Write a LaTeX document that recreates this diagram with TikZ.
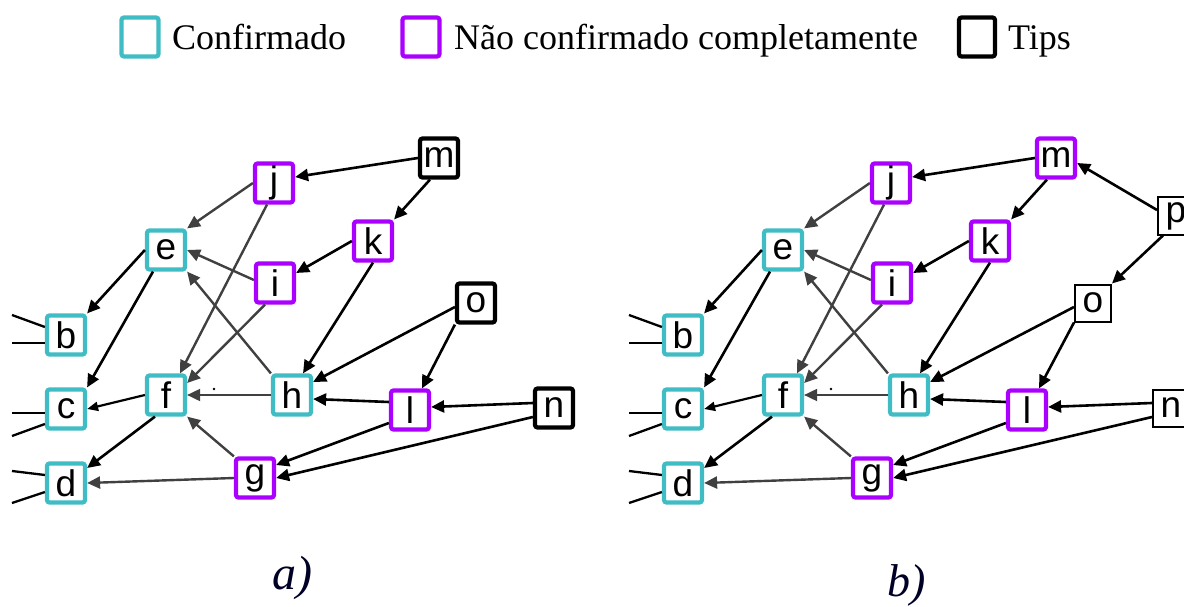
\documentclass[tikz,border=0pt]{standalone}
\usepackage{fontspec}
\setmainfont{Liberation Serif}
\newfontfamily\arialf{Liberation Sans}
\usetikzlibrary{arrows.meta}
\definecolor{conf}{RGB}{64,188,196}
\definecolor{nconf}{RGB}{170,0,255}
\definecolor{edgegray}{RGB}{64,64,64}
\tikzset{
 vbox/.style={draw, line width=4.2pt, rounded corners=2.5pt, minimum width=38pt, minimum height=39pt, inner sep=0pt, font=\arialf\fontsize{37}{37}\selectfont, fill=white},
 confbox/.style={vbox, draw=conf},
 ncbox/.style={vbox, draw=nconf},
 tipbox/.style={vbox, draw=black},
 thintip/.style={vbox, draw=black, line width=2pt, rounded corners=0pt, minimum width=36pt, minimum height=37pt},
 blk/.style={draw=black, line width=2.6pt, -{Triangle[length=13pt,width=12pt]}},
 gry/.style={draw=edgegray, line width=2.4pt, -{Triangle[length=13pt,width=12pt]}},
 stub/.style={draw=black, line width=2.3pt},
 legtext/.style={font=\fontsize{36}{36}\selectfont, anchor=base west, inner sep=0pt},
}
\newcommand\graphbody{%
 \node[ncbox] (j) at (274,183) {j};
 \node[confbox] (e) at (166,250) {e};
 \node[ncbox] (i) at (275,283) {i};
 \node[mstyle] (m) at (439,158) {m};
 \node[ncbox] (k) at (373,241) {k};
 \node[tipstyle] (o) at (476,303) {o};
 \node[confbox] (b) at (66,335) {b};
 \node[confbox] (c) at (66,409) {c};
 \node[confbox] (d) at (66,483) {d};
 \node[confbox] (f) at (166,395) {f};
 \node[confbox] (h) at (292,395) {h};
 \node[ncbox] (g) at (255,478) {g};
 \node[ncbox] (l) at (410,410) {l};
 \node[tipstyle] (n) at (554,408) {n};
 % stubs
 \coordinate (sb1) at (12,315); \coordinate (sb2) at (12,343);
 \coordinate (sc1) at (12,413); \coordinate (sc2) at (12,436);
 \coordinate (sd1) at (12,471); \coordinate (sd2) at (12,503);
 \draw[stub] (sb1) -- ([yshift=8]b.west);
 \draw[stub] (sb2) -- ([yshift=-8]b.west);
 \draw[stub] (sc1) -- ([yshift=-4]c.west);
 \draw[stub] (sc2) -- ([yshift=-15]c.west);
 \draw[stub] (sd1) -- ([yshift=8]d.west);
 \draw[stub] (sd2) -- ([yshift=-9]d.west);
 % edges
 \draw[blk] (m.west) -- ([yshift=6]j.east);
 \draw[blk] ([xshift=-9]m.south) -- (k.north east);
 \draw[blk] (k.west) -- ([yshift=10]i.east);
 \draw[blk] (k.south) -- ([xshift=11]h.north);
 \draw[gry] (j.west) -- (e.north east);
 \draw[gry] ([xshift=-7]j.south) -- ([xshift=14]f.north);
 \draw[gry] ([yshift=3]i.west) -- (e.east);
 \draw[gry] ([xshift=-10]i.south) -- ([yshift=12]f.east);
 \draw[gry] (h.north west) -- (e.south east);
 \draw[blk] (e.west) -- (b.north east);
 \draw[blk] ([xshift=-13]e.south) -- (c.north east);
 \draw[blk, line width=2.2pt, -{Triangle[length=11pt,width=9pt]}] (f.west) -- (c.east);
 \draw[blk] ([xshift=-11]f.south) -- ([yshift=15]d.east);
 \draw[gry, line width=1.8pt] (h.west) -- (f.east);
 \draw[gry] (g.north west) -- (f.south east);
 \draw[gry] (g.west) -- (d.east);
 \draw[blk] ([yshift=-4]o.west) -- ([yshift=13]h.east);
 \draw[blk] (o.south west) -- ([xshift=12]l.north);
 \draw[blk] ([yshift=8]l.west) -- ([yshift=-4]h.east);
 \draw[blk] ([yshift=-13]l.west) -- ([yshift=13]g.east);
 \draw[blk] ([yshift=5]n.west) -- ([yshift=3]l.east);
 \draw[blk] ([yshift=-9]n.west) -- (g.east);
 \fill (214,389) circle[radius=1.3pt];
}
\begin{document}
\begin{tikzpicture}[x=1pt, y=-1pt]
\useasboundingbox (0,0) rectangle (1184,607);
\clip (0,0) rectangle (1184,607);
% legend
\node[confbox, minimum width=37pt, minimum height=39pt] (lc) at (140,37) {};
\node[legtext] (lct) at (172,50) {Confirmado};
\node[ncbox, minimum width=37pt, minimum height=39pt] (ln) at (421,37) {};
\node[legtext] (lnt) at (454,50) {Não confirmado completamente};
\node[tipbox, minimum width=36pt, minimum height=39pt] (lt) at (977,37) {};
\node[legtext] (ltt) at (1008,50) {Tips};
% panel a
\begin{scope}[name prefix=A-, mstyle/.style={tipbox}, tipstyle/.style={tipbox}]
 \graphbody
\end{scope}
% panel b
\begin{scope}[xshift=617pt, name prefix=B-, mstyle/.style={ncbox}, tipstyle/.style={thintip}]
 \graphbody
 \node[thintip] (p) at (559,216) {p};
 \draw[blk] ([yshift=6]p.west) -- ([yshift=-5]m.east);
 \draw[blk] ([xshift=-13]p.south) -- (o.north east);
\end{scope}
% captions
\node[font=\itshape\fontsize{48}{48}\selectfont, text=black!85!blue] (capa) at (292,578) {a)};
\node[font=\itshape\fontsize{46}{46}\selectfont, text=black!85!blue] (capb) at (907,585) {b)};
\end{tikzpicture}
\end{document}
